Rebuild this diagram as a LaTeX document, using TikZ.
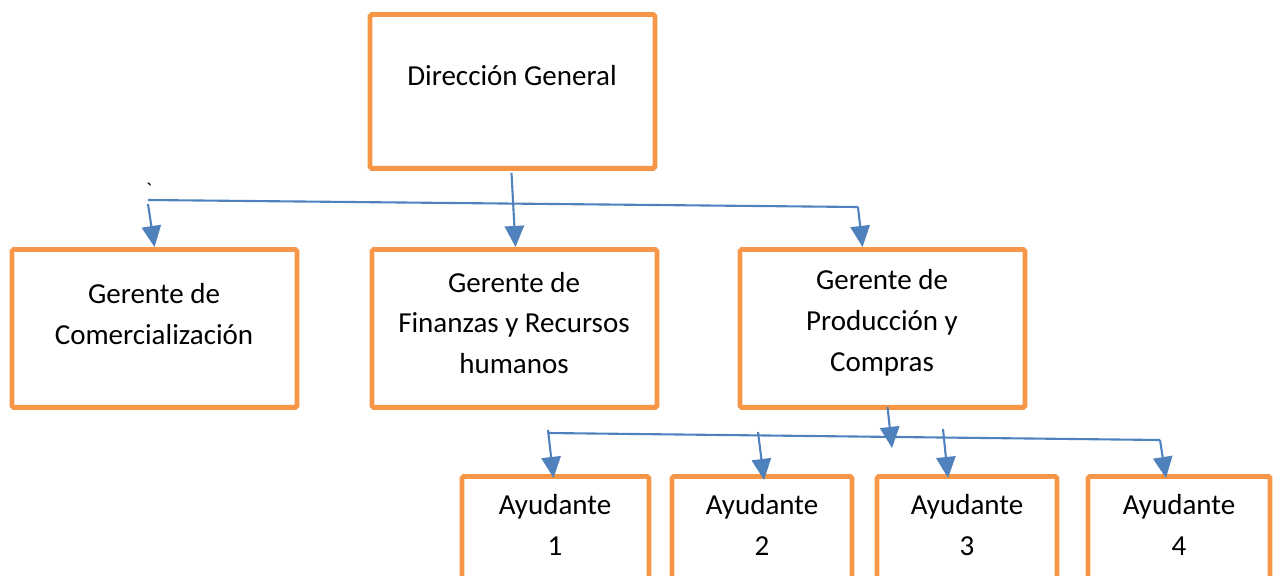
\documentclass[tikz,border=0pt]{standalone}
\usepackage{fontspec}
\setmainfont{Carlito}
\usetikzlibrary{arrows.meta,calc}
\definecolor{boxorange}{HTML}{F79646}
\definecolor{linkblue}{HTML}{4F81BD}
\tikzstyle{box}=[draw=boxorange,line width=2.8pt,rounded corners=1pt,inner sep=0pt,anchor=north]
\tikzstyle{txt}=[align=center,font=\fontsize{16.5}{23.3}\selectfont,inner sep=0pt]
\tikzstyle{link}=[draw=linkblue,line width=1.2pt]
\tikzstyle{arr}=[link,-{Triangle[width=11pt,length=12pt]}]

\begin{document}
\begin{tikzpicture}[x=0.02cm,y=-0.02cm]
\useasboundingbox (0,0) rectangle (1275,575);
\clip (0,0) rectangle (1275,575);
% boxes
\node[box,minimum width=5.7cm,minimum height=3.08cm] (DG) at (512.5,12) {};
\node[box,minimum width=5.7cm,minimum height=3.16cm] (GC) at (154.5,247) {};
\node[box,minimum width=5.7cm,minimum height=3.16cm] (GF) at (514.5,247) {};
\node[box,minimum width=5.7cm,minimum height=3.16cm] (GP) at (882.5,247) {};
\node[box,minimum width=3.74cm,minimum height=3.7cm] (A1) at (555.5,474) {};
\node[box,minimum width=3.6cm,minimum height=3.7cm] (A2) at (762,474) {};
\node[box,minimum width=3.6cm,minimum height=3.7cm] (A3) at (967,474) {};
\node[box,minimum width=3.64cm,minimum height=3.7cm] (A4) at (1179,474) {};
% texts
\node[txt] (tDG) at (512,76) {Dirección General};
\node[txt] (tGC) at (154,314) {Gerente de\\Comercialización};
\node[txt] (tGF) at (514,323) {Gerente de\\Finanzas y Recursos\\humanos};
\node[txt] (tGP) at (882,323) {Gerente de\\Producción y\\Compras};
\node[txt] (tA1) at (555,525) {Ayudante\\1};
\node[txt] (tA2) at (762,525) {Ayudante\\2};
\node[txt] (tA3) at (967,525) {Ayudante\\3};
\node[txt] (tA4) at (1179,525) {Ayudante\\4};
\node[txt,font=\fontsize{12}{14}\selectfont] (tick) at (149,190) {\textasciigrave};
% upper bar
\coordinate (U1) at (148,200);
\coordinate (U2) at (858,207);
\coordinate (U3) at (148,204);
\draw[link] (U1) -- (U2);
\draw[arr] (U2) -- ($(GP.north)+(-20,0)$);
\draw[arr] (U3) -- (GC.north);
\draw[arr] ($(DG.south)+(-1,2)$) -- ($(GF.north)+(1,0)$);
% lower bar
\coordinate (L1) at (548,433);
\coordinate (L2) at (1160,440);
\coordinate (L3) at (548,430);
\coordinate (L4) at (758,432);
\coordinate (L5) at (943,429);
\coordinate (L6) at (892,448);
\draw[link] (L1) -- (L2);
\draw[arr] (L2) -- ($(A4.north)+(-13,4)$);
\draw[arr] (L3) -- ($(A1.north)+(-2,4)$);
\draw[arr] (L4) -- ($(A2.north)+(2,6)$);
\draw[arr] (L5) -- ($(A3.north)+(-19,4)$);
\draw[arr] ($(GP.south)+(5,-3)$) -- (L6);
\end{tikzpicture}
\end{document}
